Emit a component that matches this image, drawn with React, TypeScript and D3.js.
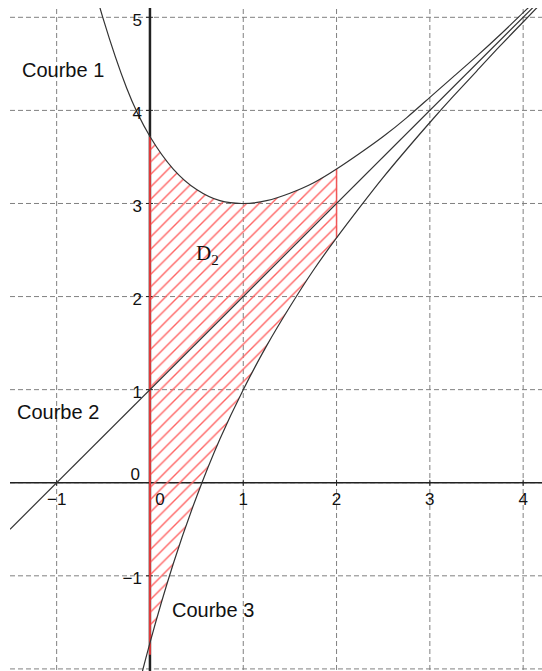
import { useEffect, useRef } from 'react';
import * as d3 from 'd3';

// sample points (shared x positions)
const curveX = [-0.6, -0.5, -0.25, 0, 0.25, 0.5, 0.75, 1, 1.25, 1.5, 1.75, 2, 2.25, 2.5, 2.75, 3, 3.25, 3.5, 3.75, 4, 4.25];
const courbe1Y = [5.35, 4.98, 4.24, 3.72, 3.37, 3.15, 3.03, 3.0, 3.03, 3.11, 3.22, 3.37, 3.54, 3.72, 3.92, 4.14, 4.36, 4.58, 4.81, 5.05, 5.29];
const courbe3Y = [-4.55, -3.98, -2.74, -1.72, -0.87, -0.15, 0.47, 1.0, 1.47, 1.89, 2.28, 2.63, 2.96, 3.28, 3.58, 3.87, 4.15, 4.42, 4.69, 4.95, 5.21];
const courbe2X = [-1.5, 4.3];
const courbe2Y = [-0.5, 5.3];

const gridX = [-1, 0, 1, 2, 3, 4];
const gridY = [-2, -1, 0, 1, 2, 3, 4, 5];
const xTickLabels = ['−1', '0', '1', '2', '3', '4'];
const yTicks = [-1, 0, 1, 2, 3, 4, 5];
const yTickLabels = ['−1', '0', '1', '2', '3', '4', '5'];

const hatchFrom = 0;
const hatchTo = 2;

const W = 542;
const H = 671;

export default function App() {
  const svgRef = useRef<SVGSVGElement>(null);

  useEffect(() => {
    if (!svgRef.current) return;
    const svg = d3.select(svgRef.current);
    svg.selectAll('*').remove();

    const left = 10, right = W, top = 8, bottom = H + 0.7;
    const x = d3.scaleLinear().domain([-1.5, 4.2]).range([left, left + 5.7 * 93.3]);
    const y = d3.scaleLinear().domain([-2.03, 5.1]).range([bottom, top]);

    const defs = svg.append('defs');
    defs.append('clipPath').attr('id', 'plot')
      .append('rect').attr('x', left).attr('y', top).attr('width', right - left).attr('height', H - top);
    const pat = defs.append('pattern')
      .attr('id', 'hatch')
      .attr('patternUnits', 'userSpaceOnUse')
      .attr('width', 12.5).attr('height', 12.5);
    pat.append('path')
      .attr('d', 'M-3,3 L3,-3 M0,12.5 L12.5,0 M9.5,15.5 L15.5,9.5')
      .attr('stroke', '#ff6464')
      .attr('stroke-width', 1.4);

    // dashed grid
    const grid = svg.append('g').attr('stroke', '#808080').attr('stroke-width', 1).attr('stroke-dasharray', '5,3');
    grid.selectAll('line.v').data(gridX).enter().append('line')
      .attr('x1', d => x(d)).attr('x2', d => x(d)).attr('y1', top + 1).attr('y2', H);
    grid.selectAll('line.h').data(gridY).enter().append('line')
      .attr('y1', d => y(d)).attr('y2', d => y(d)).attr('x1', left).attr('x2', right);

    // axes
    svg.append('line').attr('x1', left).attr('x2', right).attr('y1', y(0)).attr('y2', y(0))
      .attr('stroke', '#222').attr('stroke-width', 1.5);
    svg.append('line').attr('x1', x(0)).attr('x2', x(0)).attr('y1', top).attr('y2', H)
      .attr('stroke', '#222').attr('stroke-width', 2.5);
    svg.append('g').selectAll('line').data(gridX.filter(d => d !== 0)).enter().append('line')
      .attr('x1', d => x(d)).attr('x2', d => x(d)).attr('y1', y(0) - 3).attr('y2', y(0) + 3)
      .attr('stroke', '#222');
    svg.append('g').selectAll('line').data(yTicks.filter(d => d !== 0)).enter().append('line')
      .attr('x1', x(0) - 4).attr('x2', x(0) + 3).attr('y1', d => y(d)).attr('y2', d => y(d))
      .attr('stroke', '#222');

    const pts1 = curveX.map((v, i) => [v, courbe1Y[i]] as [number, number]);
    const pts3 = curveX.map((v, i) => [v, courbe3Y[i]] as [number, number]);
    const pts2 = courbe2X.map((v, i) => [v, courbe2Y[i]] as [number, number]);

    // hatched region D2
    const idx = curveX.map((v, i) => i).filter(i => curveX[i] >= hatchFrom && curveX[i] <= hatchTo);
    const area = d3.area<number>()
      .x(i => x(curveX[i]))
      .y0(i => y(courbe3Y[i]))
      .y1(i => y(courbe1Y[i]))
      .curve(d3.curveNatural);
    svg.append('path').attr('d', area(idx)!).attr('fill', 'url(#hatch)');

    const i0 = curveX.indexOf(hatchFrom);
    const i2 = curveX.indexOf(hatchTo);
    svg.append('line').attr('x1', x(hatchFrom)).attr('x2', x(hatchFrom))
      .attr('y1', y(courbe3Y[i0]) + 12).attr('y2', y(courbe1Y[i0]))
      .attr('stroke', '#e03a3a').attr('stroke-width', 2);
    svg.append('line').attr('x1', x(hatchTo)).attr('x2', x(hatchTo))
      .attr('y1', y(courbe3Y[i2])).attr('y2', y(courbe1Y[i2]))
      .attr('stroke', '#f05555').attr('stroke-width', 1.5);

    // curves
    const line = d3.line<[number, number]>().x(d => x(d[0])).y(d => y(d[1])).curve(d3.curveNatural);
    const curves = svg.append('g').attr('clip-path', 'url(#plot)')
      .attr('fill', 'none').attr('stroke', '#333').attr('stroke-width', 1.2);
    curves.append('path').attr('d', line(pts1)!);
    curves.append('path').attr('d', line(pts2)!);
    curves.append('path').attr('d', line(pts3)!);

    // tick labels
    const lab = svg.append('g').attr('font-family', 'Liberation Sans, Arial, sans-serif')
      .attr('font-size', 17).attr('fill', '#111');
    lab.selectAll('text.x').data(gridX).enter().append('text')
      .attr('x', d => (d === 0 ? x(d) + 10 : x(d)))
      .attr('y', y(0) + 22)
      .attr('text-anchor', 'middle')
      .text((d, i) => xTickLabels[i]);
    lab.selectAll('text.y').data(yTicks).enter().append('text')
      .attr('x', d => x(0) - (d === 0 ? 10 : 8))
      .attr('y', d => (d === 0 ? y(0) - 3 : y(d) + 8.5))
      .attr('text-anchor', 'end')
      .text((d, i) => yTickLabels[i]);

    // curve names
    const names = svg.append('g').attr('font-family', 'Liberation Sans, Arial, sans-serif')
      .attr('font-size', 20).attr('fill', '#111');
    names.append('text').attr('x', 22).attr('y', 77).text('Courbe 1');
    names.append('text').attr('x', 17).attr('y', 419).text('Courbe 2');
    names.append('text').attr('x', 172).attr('y', 617).text('Courbe 3');

    const d2 = svg.append('text').attr('x', 196).attr('y', 260)
      .attr('font-family', 'Liberation Serif, Times New Roman, serif')
      .attr('font-size', 21).attr('fill', '#111');
    d2.append('tspan').text('D');
    d2.append('tspan').attr('font-size', 15).attr('dy', 5).text('2');
  }, []);

  return (
    <svg
      ref={svgRef}
      width={W}
      height={H}
      viewBox={`0 0 ${W} ${H}`}
      style={{ position: 'absolute', left: 0, top: 0, background: '#fff' }}
    />
  );
}
